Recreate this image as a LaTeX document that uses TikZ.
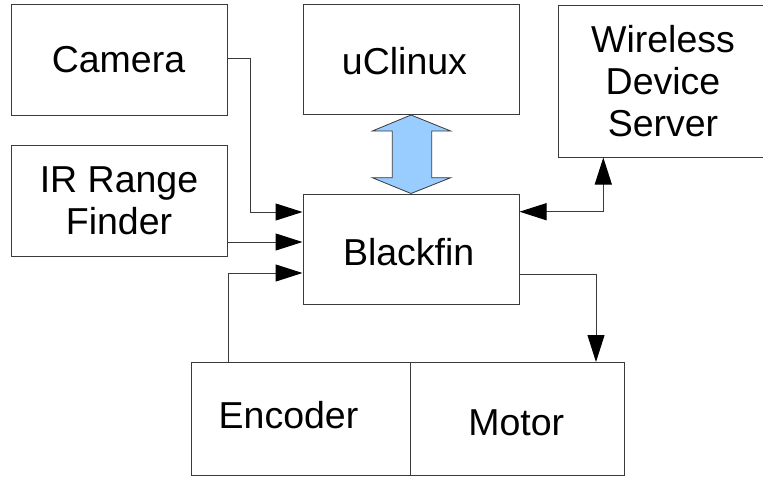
\documentclass[tikz,border=0pt]{standalone}
\usepackage{fontspec}
\setmainfont{Liberation Sans}
\usetikzlibrary{arrows.meta}
\definecolor{linegray}{HTML}{3A3A3A}
\definecolor{arrowblue}{HTML}{99CCFF}
\tikzset{
  blockbox/.style={draw=linegray, line width=1pt, rectangle, inner sep=0pt},
  lbl/.style={font=\fontsize{37.5}{42}\selectfont, inner sep=0pt, align=center, text=black},
  tip/.tip={Triangle[length=27pt,width=17pt,color=black]},
  conn/.style={draw=linegray, line width=1pt, -tip},
  bothconn/.style={draw=linegray, line width=1pt, tip-tip},
}
\begin{document}
\begin{tikzpicture}[x=1pt,y=-1pt]
\clip (0,0) rectangle (763,477);
% boxes
\node[blockbox, minimum width=216pt, minimum height=111pt] (cam) at (119,59.5) {};
\node[blockbox, minimum width=216pt, minimum height=111pt] (ir) at (119,201) {};
\node[blockbox, minimum width=216pt, minimum height=110.5pt] (ucl) at (411,59.25) {};
\node[blockbox, minimum width=210pt, minimum height=152pt] (wds) at (663,81) {};
\node[blockbox, minimum width=216pt, minimum height=110pt] (bf) at (411,249) {};
\node[blockbox, minimum width=219pt, minimum height=113pt] (enc) at (300.5,419) {};
\node[blockbox, minimum width=214.5pt, minimum height=113pt] (mot) at (517.25,419) {};
% labels
\node[lbl, anchor=base] (camt) at (118.5,72.3) {Camera};
\node[lbl] (irt) at (119,200.4) {IR Range\\Finder};
\node[lbl, anchor=base] (uclt) at (404.5,74) {uClinux};
\node[lbl] (wdst) at (663,81.5) {Wireless\\Device\\Server};
\node[lbl, anchor=base] (bft) at (408.7,265) {Blackfin};
\node[lbl, anchor=base] (enct) at (288.5,428.3) {Encoder};
\node[lbl, anchor=base] (mott) at (516.3,435) {Motor};
% connectors
\draw[conn] (cam.east |- 0,58) -| (250,212) -- (bf.west |- 0,212);
\draw[conn] (ir.east |- 0,242) -- (bf.west |- 0,242);
\draw[conn] (enc.north -| 228,0) |- (bf.west |- 0,273);
\draw[bothconn] (bf.east |- 0,211.7) -| (wds.south -| 603.3,0);
\draw[conn] (bf.east |- 0,274) -| (mot.north -| 596,0);
% big double arrow between uClinux and Blackfin
\draw[draw=linegray, line width=0.8pt, fill=arrowblue, line join=miter]
  (ucl.south) -- (372.3,131) -- (392.3,131) -- (392.3,177.7) -- (372.3,177.7)
  -- (bf.north) -- (450.7,177.7) -- (431.7,177.7) -- (431.7,131) -- (450.7,131) -- cycle;
\end{tikzpicture}
\end{document}
